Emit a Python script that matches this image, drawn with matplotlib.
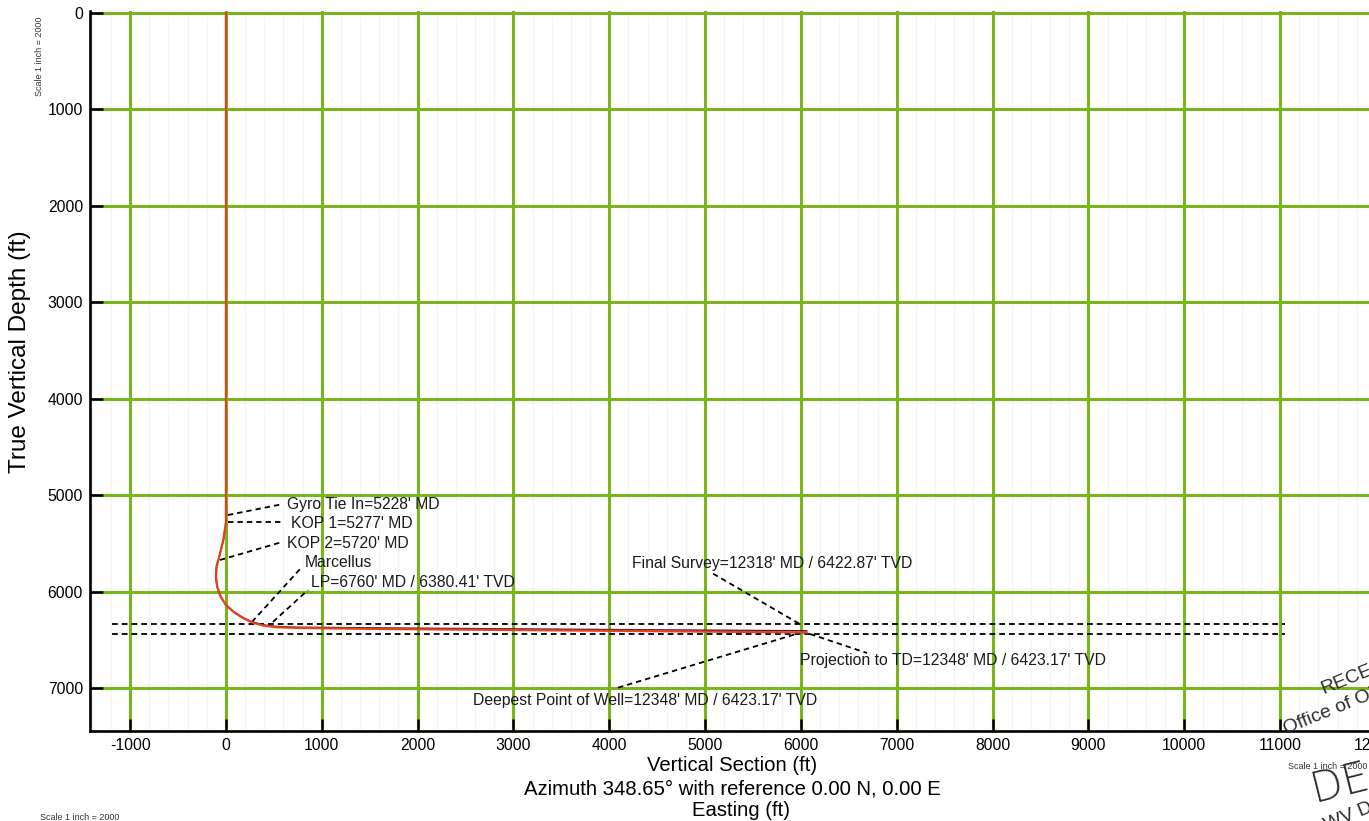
import matplotlib
matplotlib.use("Agg")
import matplotlib.pyplot as plt
from matplotlib.ticker import MultipleLocator

plt.rcParams['font.family'] = ['Liberation Sans', 'DejaVu Sans']

# ---------------- data ----------------
# actual well trajectory (vertical section ft, true vertical depth ft)
well_vs = [0, 0, 0, -28, -70, -97, -104, -91, -55, 0, 77, 164, 268, 389, 529, 738,
           1500, 2500, 3500, 4500, 5500, 6060]
well_tvd = [0, 5228, 5277, 5464, 5637, 5740, 5844, 5948, 6051, 6137, 6207, 6265, 6316,
            6351, 6368, 6375, 6385, 6393, 6401, 6409, 6417, 6423.17]
# plan line (drawn underneath)
plan_vs = [0, 0, -25, -68, -100, -108, -95, -58, -5, 70, 160, 262, 385, 525, 740,
           2000, 4000, 6060]
plan_tvd = [0, 5277, 5460, 5630, 5735, 5840, 5945, 6048, 6132, 6200, 6258, 6308,
            6343, 6360, 6368, 6378, 6392, 6405]

# formation lines (Marcellus top / base), TVD ft
formation_tvd = [6330, 6435]
formation_vs_range = [-1193, 11052]

x_ticks = list(range(-1000, 13000, 1000))
y_ticks = list(range(0, 8000, 1000))

# annotation labels with well anchor point (vs, tvd)
ann_labels = ["Gyro Tie In=5228' MD",
              "KOP 1=5277' MD",
              "KOP 2=5720' MD",
              "Marcellus",
              "LP=6760' MD / 6380.41' TVD",
              "Final Survey=12318' MD / 6422.87' TVD",
              "Projection to TD=12348' MD / 6423.17' TVD",
              "Deepest Point of Well=12348' MD / 6423.17' TVD"]
ann_anchor_vs = [20, 20, -63, 271, 490, 5980, 6095, 6022]
ann_anchor_tvd = [5205, 5277, 5671, 6313, 6313, 6330, 6438, 6417]

# ---------------- figure ----------------
fig = plt.figure(figsize=(13.69, 8.21), dpi=100)
fig.patch.set_facecolor('white')
ax = fig.add_axes([0.06574, 0.10962, 0.97425, 0.87668])
ax.set_xlim(-1419, 12500)
ax.set_ylim(7443, -15)

green = '#7ab51d'
ax.xaxis.set_major_locator(plt.FixedLocator(x_ticks))
ax.yaxis.set_major_locator(plt.FixedLocator(y_ticks))
ax.xaxis.set_minor_locator(MultipleLocator(200))
ax.grid(True, which='major', color=green, linewidth=2.2, zorder=1)
ax.grid(True, which='minor', axis='x', color='#f3f5f9', linewidth=0.8, zorder=0)
ax.set_axisbelow(True)

for s in ['top', 'right']:
    ax.spines[s].set_visible(False)
for s in ['left', 'bottom']:
    ax.spines[s].set_linewidth(1.9)
    ax.spines[s].set_color('black')
    ax.spines[s].set_zorder(5)

ax.tick_params(which='major', direction='in', length=9, width=1.8, color='black',
               labelsize=11.3, pad=5)
ax.tick_params(which='minor', length=0)
ax.set_xticklabels([str(v) for v in x_ticks])
ax.set_yticklabels([str(v) for v in y_ticks])

# formation dashed lines
for t in formation_tvd:
    ax.plot(formation_vs_range, [t, t], color='black', linewidth=1.3,
            dashes=(3.2, 2.2), zorder=3)

# well lines
ax.plot(plan_vs, plan_tvd, color='#4b1f3c', linewidth=1.1, zorder=4)
ax.plot(well_vs, well_tvd, color='#e8401c', linewidth=1.6, zorder=4)

# annotations: text position and leader end point (layout)
text_pos = [(637, 5091), (678, 5298), (637, 5505), (824, 5692), (887, 5909),
            (4237, 5712), (5990, 6717), (2574, 7125)]
leader_end = [(595, 5091), (585, 5277), (585, 5485), (793, 5743), (856, 5982),
              (5072, 5806), (6690, 6635), (4081, 6997)]
for lab, avs, atvd, tp, le in zip(ann_labels, ann_anchor_vs, ann_anchor_tvd,
                                 text_pos, leader_end):
    ax.plot([avs, le[0]], [atvd, le[1]], color='black', linewidth=1.3,
            dashes=(3.0, 2.2), zorder=3)
    ax.text(tp[0], tp[1], lab, fontsize=11.3, ha='left', va='center',
            color='#1a1a1a', zorder=6)

# axis titles
fig.text(20 / 1369, 1 - 352 / 821, 'True Vertical Depth (ft)', rotation=90,
         fontsize=17.5, ha='center', va='center')
fig.text(732 / 1369, 1 - 765 / 821, 'Vertical Section (ft)', fontsize=14.6,
         ha='center', va='center')
fig.text(732 / 1369, 1 - 789 / 821, 'Azimuth 348.65\u00b0 with reference 0.00 N, 0.00 E',
         fontsize=14.6, ha='center', va='center')
fig.text(741 / 1369, 1 - 810 / 821, 'Easting (ft)', fontsize=14.6,
         ha='center', va='center')

# small scale notes
fig.text(39 / 1369, 1 - 56 / 821, 'Scale 1 inch = 2000', rotation=90, fontsize=6.5,
         ha='center', va='center', color='#333333')
fig.text(40 / 1369, 1 - 817 / 821, 'Scale 1 inch = 2000', fontsize=6.5,
         ha='left', va='center', color='#333333')
fig.text(1288 / 1369, 1 - 766 / 821, 'Scale 1 inch = 2000', fontsize=6.5,
         ha='left', va='center', color='#333333')

# stamp (partially outside the page)
stamp_col = '#2b2b2b'
fig.text(1322 / 1369, 1 - 690 / 821, 'RECEIVED', fontsize=14, rotation=22,
         rotation_mode='anchor', ha='left', va='center', color=stamp_col)
fig.text(1284 / 1369, 1 - 730 / 821, 'Office of Oil and Gas', fontsize=14, rotation=22,
         rotation_mode='anchor', ha='left', va='center', color=stamp_col)
fig.text(1312 / 1369, 1 - 790 / 821, 'DEC', fontsize=30, rotation=14,
         rotation_mode='anchor', ha='left', va='center', color=stamp_col,
         fontweight='light', family=['DejaVu Sans'])
fig.text(1325 / 1369, 1 - 826 / 821, 'WV Department of', fontsize=14, rotation=22,
         rotation_mode='anchor', ha='left', va='center', color=stamp_col)

fig.savefig('out.png', dpi=100)
